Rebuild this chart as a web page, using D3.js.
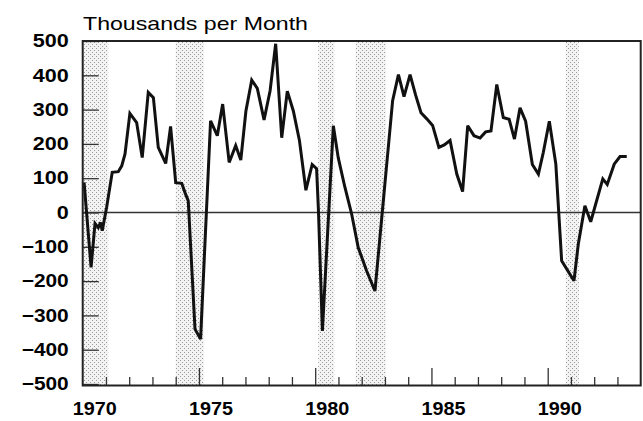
<!DOCTYPE html>
<html>
<head>
<meta charset="utf-8">
<script src="https://cdn.jsdelivr.net/npm/d3@7"></script>
<style>
  html, body { margin: 0; padding: 0; background: #fff; }
  svg { display: block; }
</style>
</head>
<body>
<div id="chart"></div>
<script>
// quarterly-ish change in employment, thousands per month
const dates = [1970.06, 1970.36, 1970.53, 1970.67, 1970.77, 1970.84, 1971.03, 1971.27, 1971.53, 1971.68,
  1971.82, 1972.03, 1972.32, 1972.56, 1972.82, 1973.04, 1973.25, 1973.57, 1973.78, 1974.00,
  1974.26, 1974.40, 1974.54, 1974.83, 1975.07, 1975.50, 1975.79, 1976.02, 1976.30, 1976.58,
  1976.80, 1977.02, 1977.27, 1977.51, 1977.80, 1978.06, 1978.30, 1978.56, 1978.80, 1979.06,
  1979.32, 1979.60, 1979.87, 1980.06, 1980.14, 1980.31, 1980.78, 1980.99, 1981.28, 1981.57,
  1981.85, 1982.21, 1982.57, 1983.33, 1983.58, 1983.82, 1984.08, 1984.32, 1984.55, 1984.80,
  1985.05, 1985.32, 1985.55, 1985.80, 1986.09, 1986.34, 1986.56, 1986.83, 1987.09, 1987.33,
  1987.56, 1987.81, 1988.09, 1988.34, 1988.57, 1988.81, 1989.05, 1989.34, 1989.60, 1989.81,
  1990.07, 1990.35, 1990.60, 1991.13, 1991.32, 1991.60, 1991.85, 1992.37, 1992.56, 1992.86,
  1993.11, 1993.40];
const values = [88, -160, -32, -44, -29, -53, 15, 117, 119, 136,
  171, 289, 262, 160, 350, 335, 190, 143, 251, 87,
  85, 58, 34, -340, -369, 267, 224, 316, 146, 195,
  153, 296, 386, 362, 270, 355, 492, 218, 354, 296,
  211, 65, 140, 128, 5, -345, 253, 160, 73, -5,
  -102, -170, -229, 326, 402, 338, 402, 342, 291, 273,
  254, 190, 197, 210, 112, 61, 253, 224, 217, 235,
  238, 373, 277, 272, 214, 305, 266, 140, 112, 175,
  266, 141, -141, -199, -90, 20, -27, 98, 82, 141,
  163, 163];

// shaded periods
const recStart = [1970.0, 1974.0, 1980.13, 1981.74, 1990.77];
const recEnd   = [1971.1, 1975.22, 1980.82, 1983.04, 1991.34];

const yTicks = [500, 400, 300, 200, 100, 0, -100, -200, -300, -400, -500];
const yearTicks = d3.range(1971, 1994);
const majorYears = [1975, 1980, 1985, 1990];
const yearLabels = [1970, 1975, 1980, 1985, 1990];

const W = 643, H = 421;
const plotLeft = 82.7, plotRight = 640.7, plotTop = 41, plotBottom = 384;

const x = d3.scaleLinear().domain([1970, 1994]).range([plotLeft, plotRight]);
const y = d3.scaleLinear().domain([-500, 500]).range([plotBottom, plotTop]);

const svg = d3.select("#chart").append("svg")
  .attr("width", W).attr("height", H);

const defs = svg.append("defs");
const pat = defs.append("pattern")
  .attr("id", "stip")
  .attr("patternUnits", "userSpaceOnUse")
  .attr("width", 4).attr("height", 4);
pat.append("rect").attr("width", 4).attr("height", 4).attr("fill", "#f3f3f3");
pat.append("rect").attr("x", 0).attr("y", 0).attr("width", 1).attr("height", 1).attr("fill", "#9a9a9a");
pat.append("rect").attr("x", 2).attr("y", 2).attr("width", 1).attr("height", 1).attr("fill", "#9a9a9a");

// recession bands
svg.append("g")
  .selectAll("rect")
  .data(recStart.map((s, i) => [s, recEnd[i]]))
  .enter()
  .append("rect")
    .attr("x", d => x(d[0]))
    .attr("width", d => x(d[1]) - x(d[0]))
    .attr("y", y(500))
    .attr("height", y(-500) - y(500) + 1.5)
    .attr("fill", "url(#stip)");

// zero line
svg.append("line")
  .attr("x1", x(1970)).attr("x2", x(1994))
  .attr("y1", y(0)).attr("y2", y(0))
  .attr("stroke", "#333").attr("stroke-width", 1.5);

// y axis, ticks pointing inward
const yAxis = svg.append("g")
  .attr("transform", "translate(" + plotLeft + ",0)")
  .call(d3.axisLeft(y).tickValues(yTicks).tickSize(-16).tickPadding(14)
    .tickFormat(d => d < 0 ? "\u2212" + Math.abs(d) : String(d)));
yAxis.select(".domain").remove();
yAxis.selectAll("line").attr("stroke", "#333").attr("stroke-width", 1.3);
yAxis.selectAll("text")
  .attr("fill", "#000")
  .attr("font-family", "Liberation Sans, Arial, Helvetica, sans-serif")
  .attr("font-weight", 700)
  .attr("font-size", 18)
  .attr("lengthAdjust", "spacingAndGlyphs")
  .attr("textLength", d => d < 0 ? 47 : (d === 0 ? 12 : 36));

// x axis ticks (every year, longer every five)
const xAxis = svg.append("g")
  .attr("transform", "translate(0," + (plotBottom + 1) + ")")
  .call(d3.axisBottom(x).tickValues(yearTicks).tickSize(-8).tickFormat(""));
xAxis.select(".domain").remove();
xAxis.selectAll(".tick line")
  .attr("stroke", "#333").attr("stroke-width", 1.3)
  .attr("y2", d => majorYears.includes(d) ? -17 : -8);

// year labels centred on mid-year
const xLab = svg.append("g")
  .attr("transform", "translate(0," + plotBottom + ")")
  .call(d3.axisBottom(x).tickValues(yearLabels.map(d => d + 0.5)).tickSize(0).tickPadding(18)
    .tickFormat(d => String(Math.floor(d))));
xLab.select(".domain").remove();
xLab.selectAll("text")
  .attr("fill", "#000")
  .attr("font-family", "Liberation Sans, Arial, Helvetica, sans-serif")
  .attr("font-weight", 700)
  .attr("font-size", 19)
  .attr("lengthAdjust", "spacingAndGlyphs")
  .attr("textLength", 44);

// the series
const line = d3.line()
  .x((d, i) => x(dates[i]))
  .y(d => y(d));

svg.append("path")
  .datum(values)
  .attr("d", line)
  .attr("fill", "none")
  .attr("stroke", "#111")
  .attr("stroke-width", 3)
  .attr("stroke-linejoin", "miter")
  .attr("stroke-miterlimit", 3);

// frame
svg.append("rect")
  .attr("x", plotLeft).attr("y", plotTop)
  .attr("width", plotRight - plotLeft).attr("height", plotBottom - plotTop + 1.5)
  .attr("fill", "none")
  .attr("stroke", "#222").attr("stroke-width", 2);

// title
svg.append("text")
  .attr("x", 83)
  .attr("y", 30)
  .attr("font-family", "Liberation Sans, Arial, Helvetica, sans-serif")
  .attr("font-size", 19)
  .attr("fill", "#000")
  .attr("lengthAdjust", "spacingAndGlyphs")
  .attr("textLength", 225)
  .text("Thousands per Month");
</script>
</body>
</html>
